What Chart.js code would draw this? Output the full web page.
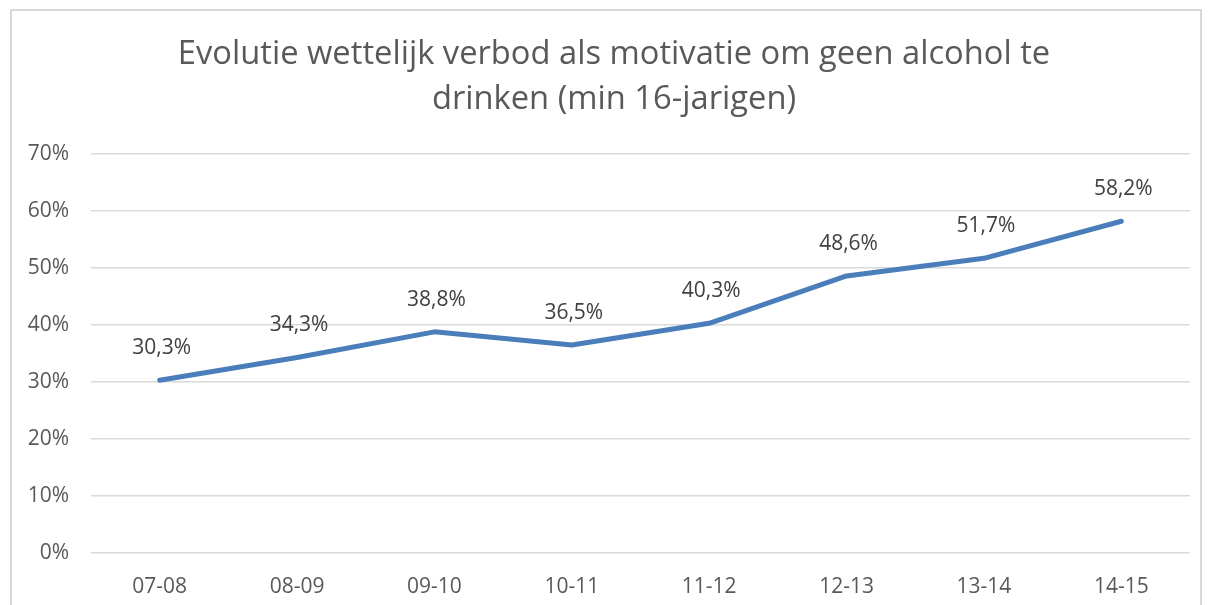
<!DOCTYPE html>
<html>
<head>
<meta charset="utf-8">
<script src="https://cdn.jsdelivr.net/npm/chart.js@4/dist/chart.umd.min.js"></script>
<style>
  html, body { margin: 0; padding: 0; background: #fff; }
  #wrap { position: relative; width: 1209px; height: 605px; }
  #kader { position: absolute; left: 10px; top: 9px; width: 1188px; height: 600px;
           border: 2px solid #d9d9d9; border-bottom: none; pointer-events: none; }
</style>
</head>
<body>
<div id="wrap">
  <canvas id="grafiek" width="1209" height="605"></canvas>
  <div id="kader"></div>
</div>
<script>
const titel = ['Evolutie wettelijk verbod als motivatie om geen alcohol te', 'drinken (min 16-jarigen)'];
const schooljaren = ['07-08', '08-09', '09-10', '10-11', '11-12', '12-13', '13-14', '14-15'];
const percentages = [30.3, 34.3, 38.8, 36.5, 40.3, 48.6, 51.7, 58.2];
const yTicks = [0, 10, 20, 30, 40, 50, 60, 70];

const lettertype = '"Open Sans", "Noto Sans", sans-serif';

// titel zelf tekenen zodat hij iets rechts van het midden staat zoals in het origineel
const titelPlugin = {
  id: 'titelPlugin',
  afterDraw(chart) {
    const ctx = chart.ctx;
    ctx.save();
    ctx.fillStyle = '#595959';
    ctx.font = '32.7px ' + lettertype;
    ctx.textAlign = 'center';
    ctx.textBaseline = 'middle';
    ctx.fillText(titel[0], 614, 55);
    ctx.fillText(titel[1], 614, 100);
    ctx.restore();
  }
};

// waardes boven de punten
const labelPlugin = {
  id: 'labelPlugin',
  afterDatasetsDraw(chart) {
    const ctx = chart.ctx;
    const meta = chart.getDatasetMeta(0);
    ctx.save();
    ctx.fillStyle = '#404040';
    ctx.font = '21px ' + lettertype;
    ctx.textAlign = 'center';
    ctx.textBaseline = 'middle';
    meta.data.forEach(function(p, i) {
      const tekst = percentages[i].toFixed(1).replace('.', ',') + '%';
      ctx.fillText(tekst, p.x + 2, p.y - 32);
    });
    ctx.restore();
  }
};

new Chart(document.getElementById('grafiek'), {
  type: 'line',
  data: {
    labels: schooljaren,
    datasets: [{
      data: percentages,
      borderColor: '#4a7ebb',
      borderWidth: 5,
      pointRadius: 0,
      tension: 0,
      borderCapStyle: 'round',
      borderJoinStyle: 'round',
      fill: false
    }]
  },
  options: {
    responsive: false,
    animation: false,
    layout: { padding: { top: 154, left: 0, right: 19, bottom: 0 } },
    plugins: {
      legend: { display: false },
      title: { display: false },
      tooltip: { enabled: false }
    },
    scales: {
      x: {
        offset: true,
        grid: { display: false },
        border: { display: false },
        ticks: { color: '#595959', font: { family: lettertype, size: 21 }, padding: 13 },
        afterFit(scale) { scale.height = 52; }
      },
      y: {
        min: 0,
        max: 70,
        afterBuildTicks(scale) { scale.ticks = yTicks.map(v => ({ value: v })); },
        grid: { color: '#d9d9d9', lineWidth: 1.5, drawTicks: false },
        border: { display: false },
        ticks: {
          color: '#595959',
          font: { family: lettertype, size: 21 },
          padding: 22,
          callback: v => v + '%'
        },
        afterFit(scale) { scale.width = 91; }
      }
    }
  },
  plugins: [titelPlugin, labelPlugin]
});
</script>
</body>
</html>
